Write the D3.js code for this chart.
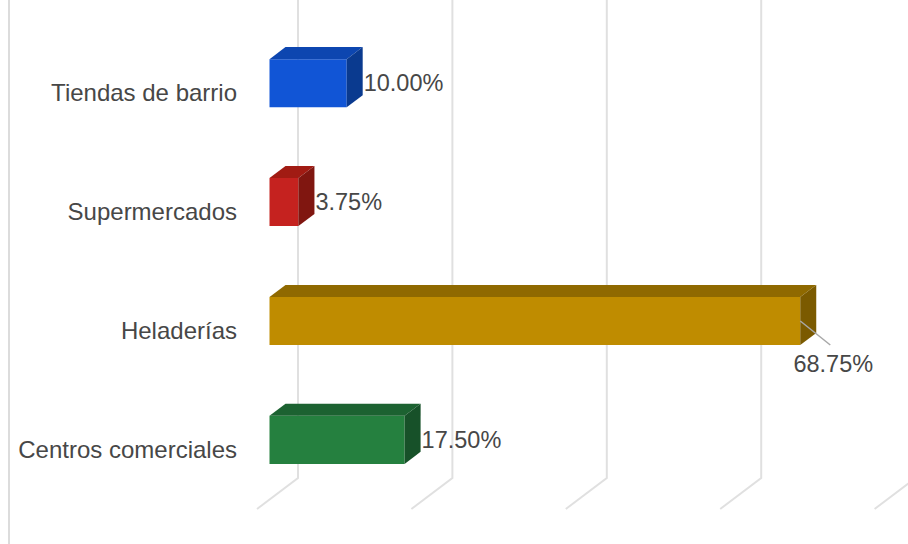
<!DOCTYPE html>
<html>
<head>
<meta charset="utf-8">
<script src="https://cdn.jsdelivr.net/npm/d3@7"></script>
<style>
  html, body { margin: 0; padding: 0; background: #ffffff; }
  svg { display: block; }
  text { font-family: "Liberation Sans", Arial, sans-serif; }
</style>
</head>
<body>
<svg id="chart" width="908" height="544"></svg>
<script>
// Share of purchases by place of sale
const categories = ["Tiendas de barrio", "Supermercados", "Heladerías", "Centros comerciales"];
const values = [10.00, 3.75, 68.75, 17.50];
const valueLabels = ["10.00%", "3.75%", "68.75%", "17.50%"];
const tickValues = [0, 20, 40, 60, 80];

// Face shades per bar: front, top, side
const frontColors = ["#1155d6", "#c5221f", "#bf8c00", "#25803f"];
const topColors   = ["#0d46b0", "#a11b13", "#8f6900", "#1c6231"];
const sideColors  = ["#0a3a8f", "#801610", "#7b5a00", "#175129"];

const svg = d3.select("#chart");

// Oblique 3D projection: depth d runs 0 (front floor) .. 1 (back wall)
const frontX0 = 257, floorY = 509;
const depthDX = 41, depthDY = -31;
const barD0 = 0.305, barD1 = 0.695;

const x = d3.scaleLinear().domain([0, 80]).range([0, 617.6]);
const y = d3.scaleBand().domain(categories).range([33, floorY])
  .paddingInner(0.596).paddingOuter(0.30);

const px = (v, d) => frontX0 + x(v) + depthDX * d;
const py = (yy, d) => yy + depthDY * d;

// Container edge on the left
svg.append("line")
  .attr("x1", 9).attr("x2", 9).attr("y1", 0).attr("y2", 544)
  .attr("stroke", "#dcdcdc").attr("stroke-width", 2);

// Gridlines: up the back wall, then across the floor to the front
const grid = svg.append("g").attr("fill", "none")
  .attr("stroke", "#e0e0e0").attr("stroke-width", 2);
grid.selectAll("path").data(tickValues).join("path")
  .attr("d", t => d3.line()([
    [px(t, 1), -5],
    [px(t, 1), py(floorY, 1)],
    [px(t, 0), floorY]
  ]));

// Bars
const bars = svg.append("g").selectAll("g").data(categories).join("g");
bars.each(function (c, i) {
  const g = d3.select(this);
  const v = values[i];
  const yt = y(c), yb = y(c) + y.bandwidth();
  const poly = pts => d3.line()(pts) + "Z";
  // front face
  g.append("path")
    .attr("d", poly([[px(0, barD0), py(yt, barD0)], [px(v, barD0), py(yt, barD0)],
                     [px(v, barD0), py(yb, barD0)], [px(0, barD0), py(yb, barD0)]]))
    .attr("fill", frontColors[i]);
  // top face
  g.append("path")
    .attr("d", poly([[px(0, barD0), py(yt, barD0)], [px(v, barD0), py(yt, barD0)],
                     [px(v, barD1), py(yt, barD1)], [px(0, barD1), py(yt, barD1)]]))
    .attr("fill", topColors[i]);
  // right face
  g.append("path")
    .attr("d", poly([[px(v, barD0), py(yt, barD0)], [px(v, barD1), py(yt, barD1)],
                     [px(v, barD1), py(yb, barD1)], [px(v, barD0), py(yb, barD0)]]))
    .attr("fill", sideColors[i]);
});

// Category labels, centred on the front floor band
svg.append("g").selectAll("text").data(categories).join("text")
  .attr("x", 237)
  .attr("y", c => y(c) + y.bandwidth() / 2)
  .attr("dy", "0.35em")
  .attr("text-anchor", "end")
  .attr("font-size", 24)
  .attr("fill", "#474747")
  .text(c => c);

// Value labels: beside the bar end, or below it with a leader when the bar is long
const labels = svg.append("g");
categories.forEach((c, i) => {
  const v = values[i];
  const yMid = py(y(c) + y.bandwidth() / 2, barD0);
  if (v > 50) {
    const ex = px(v, barD0);
    labels.append("line")
      .attr("x1", ex).attr("y1", yMid)
      .attr("x2", ex + 30).attr("y2", yMid + 24)
      .attr("stroke", "#a8a8a8").attr("stroke-width", 1.5);
    labels.append("text")
      .attr("x", ex + 33).attr("y", py(y(c) + y.bandwidth(), barD0) + 27)
      .attr("text-anchor", "middle")
      .attr("font-size", 23.5)
      .attr("fill", "#474747")
      .text(valueLabels[i]);
  } else {
    labels.append("text")
      .attr("x", px(v, barD1) + 1).attr("y", yMid)
      .attr("dy", "0.35em")
      .attr("font-size", 23.5)
      .attr("fill", "#474747")
      .text(valueLabels[i]);
  }
});
</script>
</body>
</html>
